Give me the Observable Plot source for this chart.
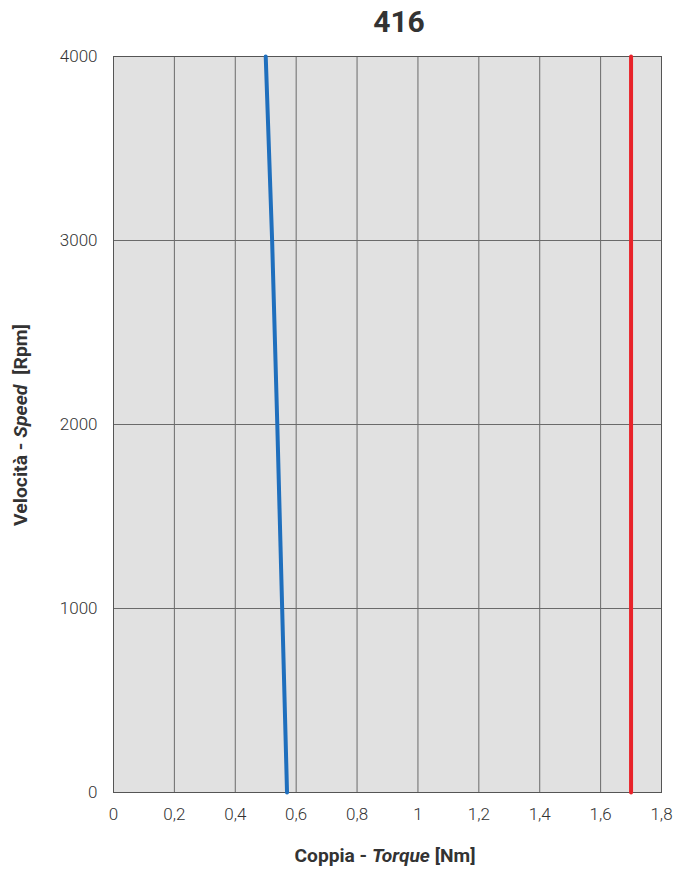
<!DOCTYPE html>
<html>
<head>
<meta charset="utf-8">
<script src="https://cdn.jsdelivr.net/npm/d3@7"></script>
<script src="https://cdn.jsdelivr.net/npm/@observablehq/plot@0.6"></script>
<style>
  body { margin: 0; background: #fff; }
  #title { height: 40px; width: 683px; position: relative; font-family: Roboto, sans-serif; font-weight: 700; font-size: 30px; color: #333; }
  #title span { position: absolute; left: 399px; top: 4px; transform: translateX(-50%); }
</style>
</head>
<body>
<div id="title"><span>416</span></div>
<div id="chart"></div>
<script>
// Speed (rpm) against torque (Nm) for motor 416
const speeds = [0, 1000, 2000, 3000, 4000];
const torqueCurve = [0.570, 0.554, 0.538, 0.521, 0.500];
const torqueLimit = 1.70;
const xTicks = [0, 0.2, 0.4, 0.6, 0.8, 1, 1.2, 1.4, 1.6, 1.8];
const yTicks = [0, 1000, 2000, 3000, 4000];

const curve = speeds.map((s, i) => ({speed: s, torque: torqueCurve[i]}));
const limit = [{speed: 0, torque: torqueLimit}, {speed: 4000, torque: torqueLimit}];
const fmtX = d => String(d).replace(".", ",");
const fmtY = d => String(d);

const chart = Plot.plot({
  width: 683,
  height: 831,
  marginTop: 16,
  marginBottom: 79,
  marginLeft: 113,
  marginRight: 22,
  style: {fontFamily: "Roboto, sans-serif", fontSize: "17px", color: "#333", background: "#fff"},
  x: {domain: [0, 1.8]},
  y: {domain: [0, 4000]},
  marks: [
    Plot.frame({fill: "#e1e1e1"}),
    Plot.gridX(xTicks, {stroke: "#6a6a6a", strokeOpacity: 1, strokeWidth: 1}),
    Plot.gridY(yTicks, {stroke: "#6a6a6a", strokeOpacity: 1, strokeWidth: 1}),
    Plot.frame({stroke: "#555", strokeWidth: 1}),
    Plot.axisX(xTicks, {tickFormat: fmtX, label: null, tickSize: 0, tickPadding: 15, fontSize: 17, fontWeight: 300, fill: "#333"}),
    Plot.axisY(yTicks, {tickFormat: fmtY, label: null, tickSize: 0, tickPadding: 16, fontSize: 17, fontWeight: 300, fill: "#333"}),
    Plot.line(curve, {x: "torque", y: "speed", stroke: "#1f6fbd", strokeWidth: 4, curve: "linear"}),
    Plot.line(limit, {x: "torque", y: "speed", stroke: "#e8232a", strokeWidth: 4})
  ]
});
document.getElementById("chart").appendChild(chart);

// Axis titles with italic English words
const svg = d3.select(chart);
const xl = svg.append("text")
  .attr("x", 385).attr("y", 822)
  .attr("text-anchor", "middle")
  .attr("font-family", "Roboto, sans-serif").attr("font-size", 19).attr("font-weight", 700)
  .attr("fill", "#333")
  .attr("textLength", 181).attr("lengthAdjust", "spacingAndGlyphs");
xl.append("tspan").text("Coppia - ");
xl.append("tspan").attr("font-style", "italic").text("Torque");
xl.append("tspan").text(" [Nm]");

const yl = svg.append("text")
  .attr("transform", "translate(27,385) rotate(-90)")
  .attr("text-anchor", "middle")
  .attr("font-family", "Roboto, sans-serif").attr("font-size", 19).attr("font-weight", 700)
  .attr("fill", "#333")
  .attr("textLength", 202).attr("lengthAdjust", "spacingAndGlyphs");
yl.append("tspan").text("Velocità - ");
yl.append("tspan").attr("font-style", "italic").text("Speed");
yl.append("tspan").text("  [Rpm]");
</script>
</body>
</html>
